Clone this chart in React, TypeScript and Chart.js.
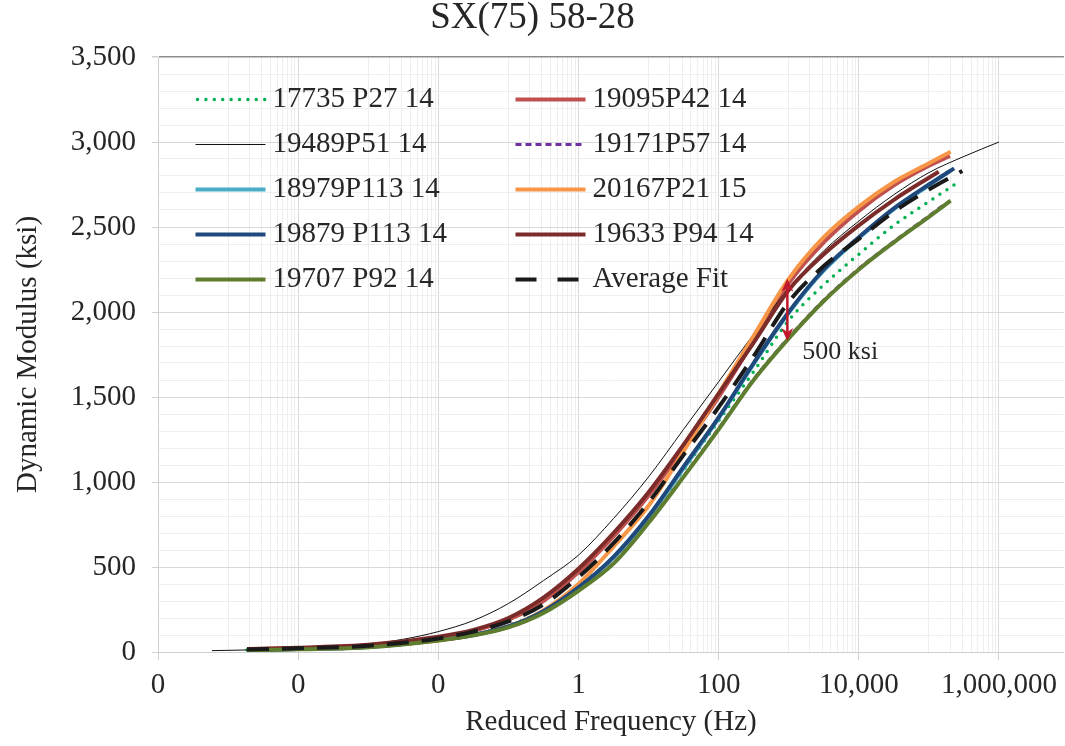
import React, { useEffect, useRef } from 'react';
import { Chart, registerables } from 'chart.js';

Chart.register(...registerables);

// ---------- DATA ----------
const TITLE = 'SX(75) 58-28';
const X_TITLE = 'Reduced Frequency (Hz)';
const Y_TITLE = 'Dynamic Modulus (ksi)';

// common reduced frequencies (Hz)
const FREQ = [1.86e-5, 1e-4, 1e-3, 1e-2, 0.0316, 0.1, 0.316, 1, 3.16, 10, 31.6, 100, 316, 1000, 3162, 1e4, 31623, 1e5];
// frequencies for the 19489P51 curve (wider range)
const FREQ_19489 = [5.9e-6, 1.86e-5, 1e-4, 1e-3, 3.16e-3, 1e-2, 0.0316, 0.1, 0.316, 1, 3.16, 10, 31.6, 100, 316, 1000, 3162, 1e4, 31623, 1e5, 3.16e5, 1e6];

const SERIES_NAMES = ['17735 P27 14', '19095P42 14', '19489P51 14', '19171P57 14', '18979P113 14', '20167P21 15', '19879 P113 14', '19633 P94 14', '19707 P92 14', 'Average Fit'];

// last frequency of each curve (appended to FREQ), except 19489P51
const END_FREQ = [2.29e5, 2.0e5, 0, 1.74e5, 2.0e5, 2.04e5, 2.29e5, 1.38e5, 2.04e5, 3.0e5];

const E_17735 = [12, 18, 30, 72, 105, 155, 245, 385, 560, 790, 1070, 1360, 1650, 1950, 2160, 2340, 2510, 2650, 2747];
const E_19095 = [16, 24, 40, 85, 125, 190, 300, 470, 680, 920, 1200, 1500, 1830, 2170, 2410, 2595, 2745, 2860, 2918];
const E_19489 = [8, 12, 22, 45, 75, 120, 185, 285, 420, 570, 785, 1030, 1310, 1590, 1870, 2140, 2360, 2535, 2690, 2820, 2915, 3000];
const E_19171 = [11, 17, 29, 70, 100, 148, 232, 362, 525, 765, 1035, 1315, 1605, 1850, 2070, 2255, 2415, 2565, 2640];
const E_18979 = [12, 18, 30, 70, 100, 150, 238, 375, 555, 795, 1080, 1375, 1695, 1995, 2245, 2435, 2605, 2745, 2830];
const E_20167 = [12, 20, 33, 68, 100, 150, 245, 400, 620, 860, 1180, 1520, 1860, 2195, 2440, 2620, 2765, 2875, 2943];
const E_19879 = [12, 18, 30, 70, 100, 150, 240, 380, 560, 800, 1090, 1380, 1700, 2000, 2250, 2440, 2610, 2750, 2845];
const E_19633 = [17, 25, 42, 90, 130, 200, 320, 490, 700, 940, 1220, 1520, 1820, 2130, 2340, 2510, 2660, 2790, 2825];
const E_19707 = [10, 16, 28, 68, 98, 145, 230, 360, 520, 760, 1030, 1310, 1600, 1845, 2065, 2250, 2410, 2560, 2655];
const E_AVG = [15, 22, 37, 80, 120, 180, 280, 440, 640, 880, 1160, 1440, 1740, 2060, 2270, 2430, 2590, 2720, 2830];

const SERIES_VALUES = [E_17735, E_19095, E_19489, E_19171, E_18979, E_20167, E_19879, E_19633, E_19707, E_AVG];

// annotation (500 ksi spread)
const ARROW_FREQ = 955;
const ARROW_FROM = 1830;
const ARROW_TO = 2195;
const ARROW_LABEL = '500 ksi';
const ARROW_LABEL_VALUE = 1765;

// axes
const X_MIN = 1e-6;
const X_MAX = 8.44e6;
const X_MAJOR = [1e-6, 1e-4, 1e-2, 1, 100, 1e4, 1e6];
const X_MINOR_EXP = [-5, -3, -1, 1, 3, 5];
const Y_MIN = 0;
const Y_MAX = 3500;
const Y_STEP = 100;
const Y_MAJOR_STEP = 500;

// ---------- STYLES ----------
const COLORS = ['#00b050', '#c0504d', '#111111', '#7030a0', '#4bacc6', '#f79646', '#1f497d', '#7b2c2a', '#5e7d2f', '#1a1a1a'];
const WIDTHS = [3.5, 4, 1, 3, 4, 4, 4, 4, 4, 4];
const DASHES: number[][] = [[0, 8.4], [], [], [6, 4], [], [], [], [], [], [22, 13]];
const CAPS = ['round', 'butt', 'butt', 'butt', 'butt', 'butt', 'butt', 'butt', 'butt', 'butt'];

const FONT = '"Liberation Serif", "Times New Roman", serif';
const TEXT_COLOR = '#262626';

function isMajorX(v: number) {
  return X_MAJOR.some((m) => Math.abs(Math.log10(v) - Math.log10(m)) < 1e-6);
}

function xTicks() {
  const t: number[] = [...X_MAJOR];
  X_MINOR_EXP.forEach((e) => {
    for (let k = 1; k <= 9; k++) t.push(k * Math.pow(10, e));
  });
  return t.sort((a, b) => a - b);
}

const overlayPlugin = {
  id: 'overlay',
  afterDatasetsDraw(chart: any) {
    const { ctx } = chart;
    const x = chart.scales.x;
    const y = chart.scales.y;
    const ax = x.getPixelForValue(ARROW_FREQ);
    const yb = y.getPixelForValue(ARROW_FROM);
    const yt = y.getPixelForValue(ARROW_TO);
    const head = 13;
    const hw = 6;
    ctx.save();
    ctx.strokeStyle = '#c0182a';
    ctx.fillStyle = '#c0182a';
    ctx.lineWidth = 2.5;
    ctx.beginPath();
    ctx.moveTo(ax, yt + head - 4);
    ctx.lineTo(ax, yb - head + 4);
    ctx.stroke();
    ctx.beginPath();
    ctx.moveTo(ax, yt);
    ctx.lineTo(ax - hw, yt + head);
    ctx.lineTo(ax, yt + head - 4);
    ctx.lineTo(ax + hw, yt + head);
    ctx.closePath();
    ctx.fill();
    ctx.beginPath();
    ctx.moveTo(ax, yb);
    ctx.lineTo(ax - hw, yb - head);
    ctx.lineTo(ax, yb - head + 4);
    ctx.lineTo(ax + hw, yb - head);
    ctx.closePath();
    ctx.fill();
    ctx.fillStyle = TEXT_COLOR;
    ctx.font = '26px ' + FONT;
    ctx.textAlign = 'left';
    ctx.textBaseline = 'middle';
    ctx.fillText(ARROW_LABEL, ax + 15, y.getPixelForValue(ARROW_LABEL_VALUE));
    ctx.restore();
  },
  afterDraw(chart: any) {
    const { ctx, chartArea } = chart;
    ctx.save();
    ctx.font = '29px ' + FONT;
    ctx.textAlign = 'left';
    ctx.textBaseline = 'middle';
    chart.data.datasets.forEach((ds: any, i: number) => {
      const col = i % 2;
      const row = Math.floor(i / 2);
      const x0 = chartArea.left + (col === 0 ? 37.5 : 357.5);
      const yy = chartArea.top + 42.5 + row * 45;
      ctx.save();
      ctx.strokeStyle = ds.borderColor;
      ctx.lineWidth = ds.borderWidth;
      ctx.lineCap = ds.borderCapStyle;
      ctx.setLineDash(i === 9 ? [21, 21] : ds.borderDash || []);
      ctx.beginPath();
      ctx.moveTo(x0 + (i === 0 ? 2 : 0), yy);
      ctx.lineTo(x0 + 70, yy);
      ctx.stroke();
      ctx.restore();
      ctx.fillStyle = TEXT_COLOR;
      ctx.fillText(ds.label, x0 + 77, yy);
    });
    ctx.restore();
  },
};

export default function App() {
  const ref = useRef<HTMLCanvasElement | null>(null);

  useEffect(() => {
    if (!ref.current) return;
    document.body.style.margin = '0';
    Chart.defaults.font.family = FONT;

    const datasets = SERIES_NAMES.map((name, i) => {
      const freqs = i === 2 ? FREQ_19489 : [...FREQ, END_FREQ[i]];
      const vals = SERIES_VALUES[i];
      return {
        label: name,
        data: vals.map((v, j) => ({ x: freqs[j], y: v })),
        borderColor: COLORS[i],
        backgroundColor: COLORS[i],
        borderWidth: WIDTHS[i],
        borderDash: DASHES[i],
        borderCapStyle: CAPS[i],
        borderJoinStyle: 'round',
        pointRadius: 0,
        showLine: true,
        fill: false,
        cubicInterpolationMode: 'monotone',
        order: 10 - i,
      };
    });

    const tickList = xTicks();

    const chart = new Chart(ref.current, {
      type: 'scatter',
      data: { datasets } as any,
      plugins: [overlayPlugin],
      options: {
        responsive: false,
        maintainAspectRatio: false,
        devicePixelRatio: 1,
        animation: false,
        layout: { padding: 0 },
        plugins: {
          legend: { display: false },
          tooltip: { enabled: false },
          title: {
            display: true,
            text: TITLE,
            color: TEXT_COLOR,
            font: { family: FONT, size: 37, weight: 'normal', lineHeight: 1 },
            padding: { top: 0, bottom: 20 },
          },
        },
        scales: {
          x: {
            type: 'logarithmic',
            min: X_MIN,
            max: X_MAX,
            afterBuildTicks: (axis: any) => {
              axis.ticks = tickList.map((v) => ({ value: v }));
            },
            afterFit: (scale: any) => {
              scale.height = 94;
            },
            ticks: {
              autoSkip: false,
              maxRotation: 0,
              minRotation: 0,
              padding: 8,
              color: TEXT_COLOR,
              font: { family: FONT, size: 29 },
              callback: (v: any) => {
                const n = Number(v);
                if (!isMajorX(n)) return '';
                return n < 1 ? '0' : Math.round(n).toLocaleString('en-US');
              },
            },
            grid: {
              color: (c: any) => (c.tick && isMajorX(c.tick.value) ? '#d9d9d9' : '#eeeeee'),
              tickColor: (c: any) => (c.tick && isMajorX(c.tick.value) ? '#d0d0d0' : 'rgba(0,0,0,0)'),
              tickLength: 8,
              lineWidth: 1,
            },
            border: { display: true, color: '#d0d0d0', width: 1 },
            title: {
              display: true,
              text: X_TITLE,
              color: TEXT_COLOR,
              font: { family: FONT, size: 29 },
              padding: { top: 0, bottom: 6.6 },
            },
          },
          y: {
            type: 'linear',
            min: Y_MIN,
            max: Y_MAX,
            afterFit: (scale: any) => {
              scale.width = 158;
            },
            ticks: {
              stepSize: Y_STEP,
              autoSkip: false,
              padding: 16,
              color: TEXT_COLOR,
              font: { family: FONT, size: 29 },
              callback: (v: any) => {
                const n = Number(v);
                return n % Y_MAJOR_STEP === 0 ? n.toLocaleString('en-US') : '';
              },
            },
            grid: {
              color: (c: any) => {
                const v = c.tick ? c.tick.value : 0;
                if (v === Y_MAX) return '#8c8c8c';
                return v % Y_MAJOR_STEP === 0 ? '#d9d9d9' : '#eeeeee';
              },
              lineWidth: (c: any) => (c.tick && c.tick.value === Y_MAX ? 1.5 : 1),
              tickColor: (c: any) => (c.tick && c.tick.value % Y_MAJOR_STEP === 0 ? '#d0d0d0' : 'rgba(0,0,0,0)'),
              tickLength: 6,
            },
            border: { display: true, color: '#d0d0d0', width: 1 },
            title: {
              display: true,
              text: Y_TITLE,
              color: TEXT_COLOR,
              font: { family: FONT, size: 29 },
              padding: { top: 10.6, bottom: 0 },
            },
          },
        },
      } as any,
    });

    return () => chart.destroy();
  }, []);

  return (
    <div style={{ position: 'absolute', left: 0, top: 0, width: 1065, height: 746 }}>
      <canvas ref={ref} width={1065} height={746} style={{ display: 'block' }} />
    </div>
  );
}
